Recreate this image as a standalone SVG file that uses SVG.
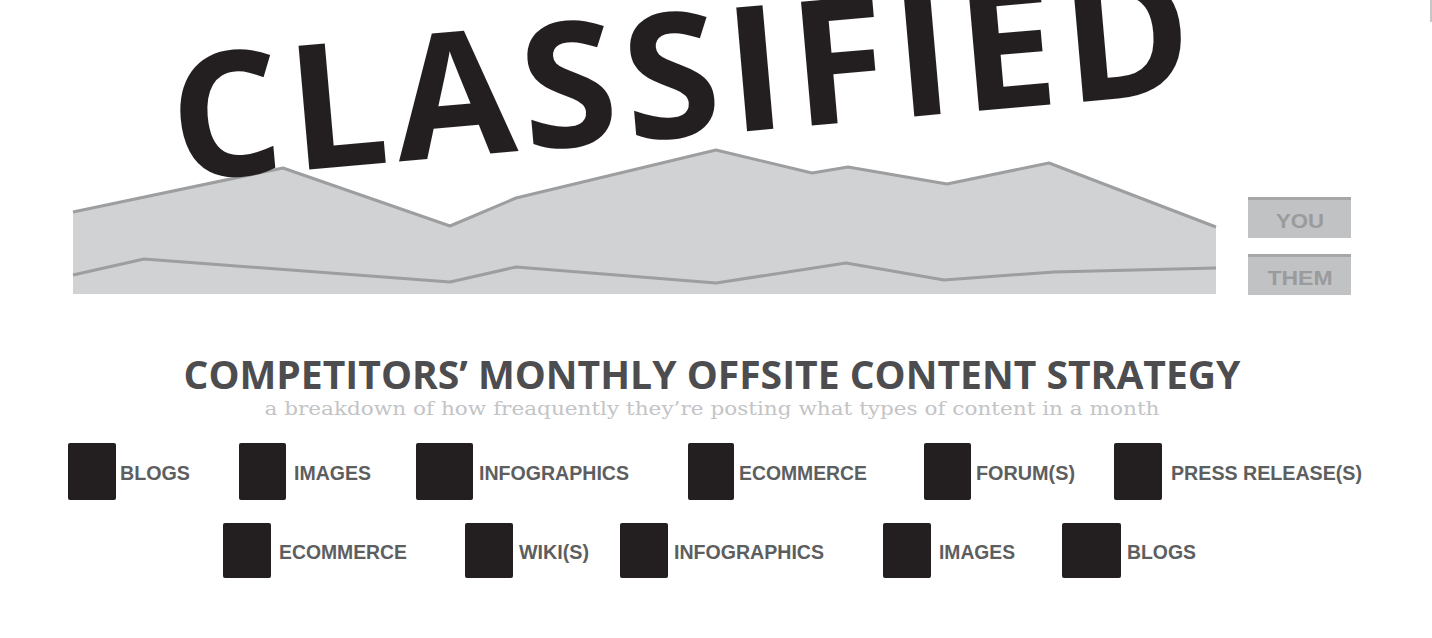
<svg xmlns="http://www.w3.org/2000/svg" width="1432" height="638" viewBox="0 0 1432 638">
  <style>
    .area { fill: #d1d2d4; }
    .line { fill: none; stroke: #9d9ea0; stroke-width: 3; stroke-linejoin: round; }
    .lgbox { fill: #c1c2c4; }
    .lgtop { fill: #a6a7a9; }
    .lgtxt { font-family: "Liberation Sans", Arial, sans-serif; font-weight: 700; font-size: 21px; fill: #9a9b9d; text-anchor: middle; }
    .sw { fill: #231f20; }
    .lbl { font-family: "Liberation Sans", Arial, sans-serif; font-weight: 700; font-size: 20px; fill: #5d5e60; }
  </style>
  <rect width="1432" height="638" fill="#ffffff"/>
  <line x1="1431" y1="0" x2="1431" y2="22" stroke="#b5b5b5" stroke-width="1.5"/>

  <g id="chart">
    <polygon class="area" points="73,212 283,168 450,226 516,198 716,150 812,173 848,167 947,184 1049,163 1216,227 1216,294 73,294"/>
    <polyline class="line" points="73,212 283,168 450,226 516,198 716,150 812,173 848,167 947,184 1049,163 1216,227"/>
    <polyline class="line" points="73,275 144,259 450,282 516,267 716,283 846,263 944,280 1054,272 1216,268"/>
  </g>

  <g id="stamp">
    <text x="176" y="181" transform="rotate(-5 176 181)" font-family="'Open Sans', 'Noto Sans', sans-serif" font-weight="700" font-size="174" fill="#231f20" textLength="1024" lengthAdjust="spacing">CLASSIFIED</text>
  </g>

  <g id="legend-you">
    <rect class="lgbox" x="1248" y="197" width="103" height="41"/>
    <rect class="lgtop" x="1248" y="197" width="103" height="3"/>
    <text class="lgtxt" x="1300" y="228" textLength="48" lengthAdjust="spacingAndGlyphs">YOU</text>
  </g>
  <g id="legend-them">
    <rect class="lgbox" x="1248" y="254" width="103" height="41"/>
    <rect class="lgtop" x="1248" y="254" width="103" height="3"/>
    <text class="lgtxt" x="1300" y="285" textLength="65" lengthAdjust="spacingAndGlyphs">THEM</text>
  </g>

  <g id="title">
    <text x="712" y="389" text-anchor="middle" font-family="'Open Sans', 'Noto Sans', sans-serif" font-weight="700" font-size="40" fill="#4d4d4f" textLength="1057" lengthAdjust="spacingAndGlyphs">COMPETITORS’ MONTHLY OFFSITE CONTENT STRATEGY</text>
    <text x="712" y="415" text-anchor="middle" font-family="'DejaVu Serif', serif" font-size="18" fill="#c3c4c6" textLength="895" lengthAdjust="spacingAndGlyphs">a breakdown of how freaquently they’re posting what types of content in a month</text>
  </g>

  <g id="key-row1">
    <g id="k1"><rect class="sw" x="68" y="443" width="48" height="57" rx="2"/><text class="lbl" x="120" y="480" textLength="70" lengthAdjust="spacingAndGlyphs">BLOGS</text></g>
    <g id="k2"><rect class="sw" x="239" y="443" width="47" height="57" rx="2"/><text class="lbl" x="294" y="480" textLength="77" lengthAdjust="spacingAndGlyphs">IMAGES</text></g>
    <g id="k3"><rect class="sw" x="416" y="443" width="57" height="57" rx="2"/><text class="lbl" x="479" y="480" textLength="150" lengthAdjust="spacingAndGlyphs">INFOGRAPHICS</text></g>
    <g id="k4"><rect class="sw" x="688" y="443" width="46" height="57" rx="2"/><text class="lbl" x="739" y="480" textLength="128" lengthAdjust="spacingAndGlyphs">ECOMMERCE</text></g>
    <g id="k5"><rect class="sw" x="924" y="443" width="47" height="57" rx="2"/><text class="lbl" x="976" y="480" textLength="99" lengthAdjust="spacingAndGlyphs">FORUM(S)</text></g>
    <g id="k6"><rect class="sw" x="1114" y="443" width="48" height="57" rx="2"/><text class="lbl" x="1171" y="480" textLength="191" lengthAdjust="spacingAndGlyphs">PRESS RELEASE(S)</text></g>
  </g>
  <g id="key-row2">
    <g id="k7"><rect class="sw" x="223" y="523" width="48" height="55" rx="2"/><text class="lbl" x="279" y="559" textLength="128" lengthAdjust="spacingAndGlyphs">ECOMMERCE</text></g>
    <g id="k8"><rect class="sw" x="465" y="523" width="48" height="55" rx="2"/><text class="lbl" x="519" y="559" textLength="70" lengthAdjust="spacingAndGlyphs">WIKI(S)</text></g>
    <g id="k9"><rect class="sw" x="620" y="523" width="48" height="55" rx="2"/><text class="lbl" x="674" y="559" textLength="150" lengthAdjust="spacingAndGlyphs">INFOGRAPHICS</text></g>
    <g id="k10"><rect class="sw" x="883" y="523" width="48" height="55" rx="2"/><text class="lbl" x="939" y="559" textLength="76" lengthAdjust="spacingAndGlyphs">IMAGES</text></g>
    <g id="k11"><rect class="sw" x="1062" y="523" width="59" height="55" rx="2"/><text class="lbl" x="1127" y="559" textLength="69" lengthAdjust="spacingAndGlyphs">BLOGS</text></g>
  </g>
</svg>
